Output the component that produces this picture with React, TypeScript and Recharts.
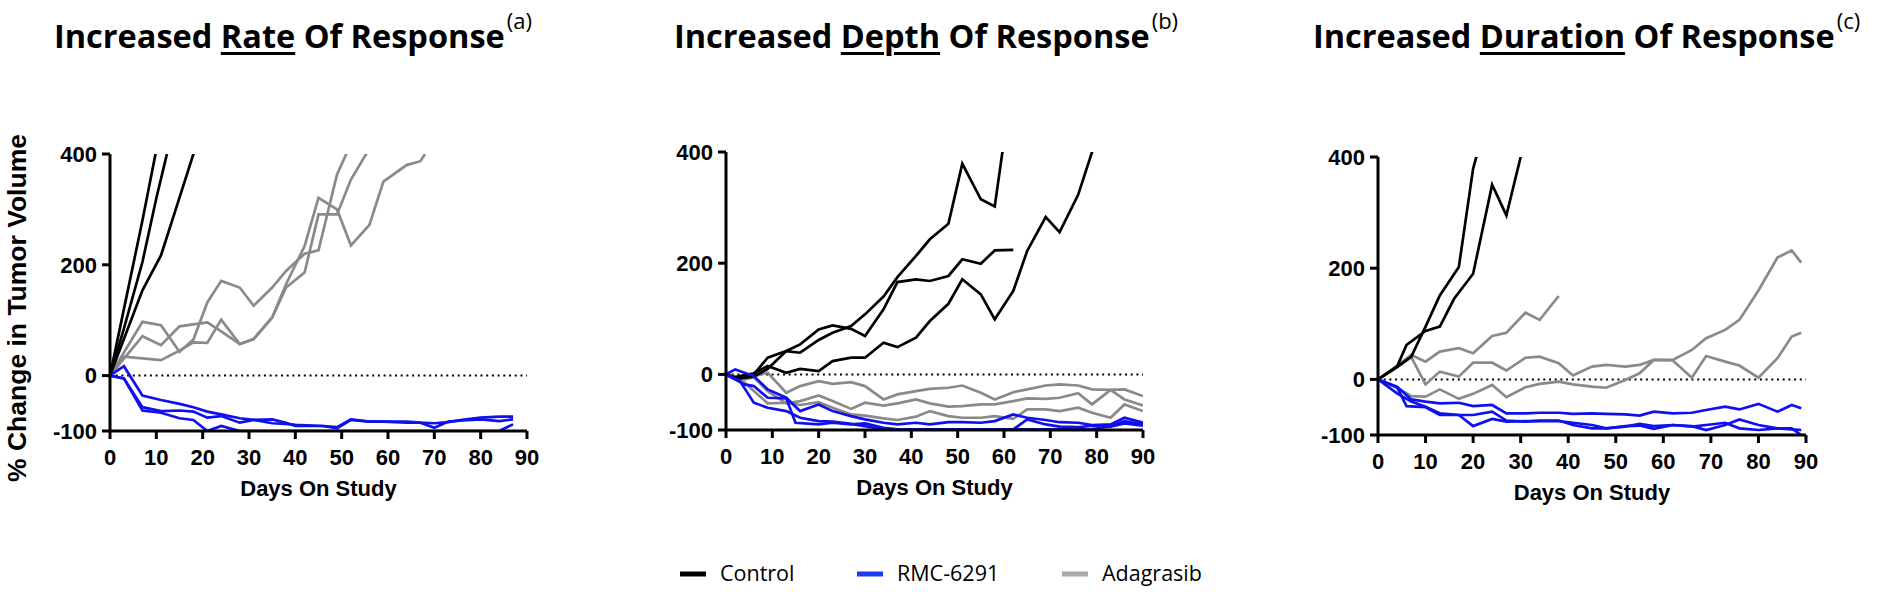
import React from 'react';
import { LineChart, Line, XAxis, YAxis, ReferenceLine } from 'recharts';

// [day, % change] pairs
const rateControl1 = [[0, 0], [3, 120], [7, 280], [11, 450]];
const rateControl2 = [[0, 0], [3, 85], [7, 205], [10, 320], [14, 460]];
const rateControl3 = [[0, 0], [7, 154], [11, 217], [14, 295], [18, 400], [21, 470]];
const rateRmc1 = [[0, 0], [3, 17], [7, -36], [11, -44], [15, -51], [18, -57], [21, -65], [24, -70], [28, -77], [31, -80], [35, -86], [38, -87], [40, -89], [46, -91], [49, -93], [52, -79], [56, -83], [59, -83], [64, -83], [67, -85], [70, -86], [73, -84], [76, -80], [80, -76], [84, -74], [87, -74]];
const rateRmc2 = [[0, 0], [3, -5], [7, -57], [11, -64], [15, -63], [18, -65], [21, -76], [24, -73], [28, -85], [31, -80], [35, -79], [38, -85], [40, -91], [46, -91], [49, -95], [52, -80], [56, -83], [59, -83], [64, -85], [67, -85], [70, -94], [73, -83], [76, -81], [80, -79], [84, -82], [87, -79]];
const rateRmc3 = [[0, 0], [3, -5], [7, -63], [11, -67], [15, -77], [18, -80], [21, -100], [24, -91], [28, -100], [84, -100], [87, -88]];
const rateAdagrasib1 = [[0, 0], [3, 34], [11, 28], [15, 45], [18, 60], [21, 59], [24, 101], [28, 57], [31, 66], [35, 105], [38, 159], [42, 186], [45, 291], [49, 291], [52, 354], [56, 410]];
const rateAdagrasib2 = [[0, 0], [7, 71], [11, 55], [15, 89], [21, 96], [24, 80], [28, 57], [31, 66], [35, 105], [38, 165], [42, 234], [45, 321], [49, 300], [52, 235], [56, 272], [59, 350], [64, 380], [67, 387], [68, 400]];
const rateAdagrasib3 = [[0, 0], [7, 97], [11, 91], [15, 43], [18, 65], [21, 132], [24, 171], [28, 159], [31, 126], [35, 159], [38, 189], [42, 220], [45, 226], [49, 363], [51, 400], [53, 440]];

const depthControl1 = [[0, 0], [2, -8], [6, 0], [9, 30], [13, 42], [16, 54], [20, 81], [23, 88], [27, 82], [30, 69], [34, 117], [37, 166], [41, 171], [44, 168], [48, 177], [51, 207], [55, 199], [58, 223], [62, 224]];
const depthControl2 = [[0, 0], [2, -8], [6, -4], [9, 10], [13, 42], [16, 39], [20, 62], [23, 75], [27, 87], [30, 108], [34, 140], [37, 175], [41, 213], [44, 243], [48, 271], [51, 379], [55, 315], [58, 302], [60, 420]];
const depthControl3 = [[0, 0], [2, -5], [6, 2], [9, 15], [13, 3], [16, 10], [20, 6], [23, 24], [27, 30], [30, 30], [34, 57], [37, 49], [41, 66], [44, 96], [48, 127], [51, 171], [55, 144], [58, 99], [62, 150], [65, 222], [69, 283], [72, 256], [76, 323], [79, 400], [81, 440]];
const depthRmc1 = [[0, 0], [2, 9], [6, -3], [9, -27], [13, -42], [16, -66], [20, -54], [23, -66], [27, -75], [30, -81], [34, -87], [37, -90], [41, -87], [44, -90], [48, -86], [51, -86], [55, -87], [58, -84], [62, -72], [65, -78], [69, -82], [72, -86], [76, -87], [79, -91], [83, -90], [86, -78], [90, -87]];
const depthRmc2 = [[0, 0], [4, -18], [6, -21], [9, -42], [13, -43], [15, -87], [20, -90], [23, -87], [27, -90], [30, -88], [34, -96], [37, -99], [62, -99], [65, -81], [69, -90], [72, -94], [76, -95], [79, -92], [83, -94], [86, -88], [90, -92]];
const depthRmc3 = [[0, 0], [3, -12], [6, -51], [9, -60], [13, -66], [16, -78], [20, -84], [23, -85], [27, -89], [30, -93], [34, -99], [79, -99], [83, -93], [86, -84], [90, -90]];
const depthAdagrasib1 = [[0, 0], [4, -9], [6, -3], [9, 3], [13, -33], [16, -21], [20, -12], [23, -17], [27, -14], [30, -21], [34, -45], [37, -36], [41, -30], [44, -26], [48, -24], [51, -20], [55, -33], [58, -45], [62, -32], [65, -27], [69, -20], [72, -18], [76, -20], [79, -27], [83, -28], [86, -27], [90, -39]];
const depthAdagrasib2 = [[0, 0], [4, -9], [6, -5], [9, -30], [13, -52], [16, -48], [20, -38], [23, -48], [27, -62], [30, -51], [34, -56], [37, -52], [41, -45], [44, -52], [48, -58], [51, -57], [55, -54], [58, -54], [62, -48], [65, -43], [69, -44], [72, -42], [76, -34], [79, -54], [83, -28], [86, -45], [90, -56]];
const depthAdagrasib3 = [[0, 0], [4, -15], [9, -52], [13, -51], [16, -55], [20, -50], [23, -60], [27, -72], [30, -74], [34, -79], [37, -82], [41, -76], [44, -66], [48, -75], [51, -78], [55, -78], [58, -75], [62, -80], [65, -63], [69, -63], [72, -66], [76, -60], [79, -69], [83, -78], [86, -54], [90, -66]];

const durationControl1 = [[0, 0], [4, 23], [6, 62], [10, 87], [13, 95], [16, 145], [20, 190], [24, 350], [27, 295], [30, 400], [31, 430]];
const durationControl2 = [[0, 0], [4, 22], [7, 41], [10, 95], [13, 151], [17, 202], [20, 379], [21, 410]];
const durationRmc1 = [[0, 0], [4, -13], [7, -36], [10, -40], [13, -43], [17, -42], [20, -48], [24, -46], [27, -61], [31, -61], [34, -60], [38, -60], [41, -62], [45, -61], [48, -62], [52, -63], [55, -65], [58, -58], [62, -61], [66, -60], [69, -55], [73, -49], [76, -54], [80, -44], [84, -58], [87, -46], [89, -52]];
const durationRmc2 = [[0, 0], [4, -14], [6, -48], [10, -50], [13, -64], [17, -64], [20, -64], [24, -58], [27, -74], [31, -76], [34, -74], [38, -74], [41, -82], [45, -88], [48, -88], [52, -84], [55, -83], [58, -89], [62, -82], [66, -85], [69, -82], [73, -78], [76, -88], [80, -91], [84, -88], [87, -90], [89, -91]];
const durationRmc3 = [[0, 0], [4, -25], [7, -40], [10, -49], [13, -61], [17, -64], [20, -84], [24, -71], [27, -76], [31, -75], [34, -75], [38, -75], [41, -78], [45, -82], [48, -88], [52, -85], [55, -80], [58, -84], [62, -82], [66, -84], [69, -91], [73, -82], [76, -72], [80, -82], [84, -88], [87, -88], [89, -100]];
const durationAdagrasib1 = [[0, 0], [4, 25], [7, 44], [10, 32], [13, 50], [17, 56], [20, 47], [24, 78], [27, 84], [31, 120], [34, 107], [38, 150]];
const durationAdagrasib2 = [[0, 0], [4, 22], [7, 40], [10, -9], [13, 14], [17, 5], [20, 30], [24, 30], [27, 16], [31, 39], [34, 41], [38, 29], [41, 7], [45, 23], [48, 26], [52, 23], [55, 26], [58, 35], [62, 34], [66, 3], [69, 42], [73, 32], [76, 25], [80, 3], [84, 38], [87, 77], [89, 84]];
const durationAdagrasib3 = [[0, 0], [4, -15], [7, -30], [10, -31], [13, -18], [17, -35], [20, -26], [24, -10], [27, -32], [31, -14], [34, -8], [38, -4], [41, -9], [45, -13], [48, -15], [52, -1], [55, 11], [58, 35], [62, 35], [66, 53], [69, 74], [73, 89], [76, 107], [80, 160], [84, 219], [87, 232], [89, 210]];

const xTicks = [0, 10, 20, 30, 40, 50, 60, 70, 80, 90];
const yTicks = [-100, 0, 200, 400];
const groupNames = ['Control', 'RMC-6291', 'Adagrasib'];

const BLACK = '#000000';
const BLUE = '#1010ee';
const GRAY = '#8a8a8a';

const tickFont = {
  fontSize: 22,
  fontWeight: 700,
  fill: '#000',
  fontFamily: '"Liberation Sans", Arial, sans-serif',
};

const panels = [
  {
    id: 'rate',
    word: 'Rate',
    note: '(a)',
    chartLeft: 0,
    titleLeft: 54,
    plotTop: 154,
    plotBottom: 431,
    control: [rateControl1, rateControl2, rateControl3],
    rmc: [rateRmc1, rateRmc2, rateRmc3],
    adagrasib: [rateAdagrasib1, rateAdagrasib2, rateAdagrasib3],
  },
  {
    id: 'depth',
    word: 'Depth',
    note: '(b)',
    chartLeft: 616,
    titleLeft: 674,
    plotTop: 152,
    plotBottom: 430,
    control: [depthControl1, depthControl2, depthControl3],
    rmc: [depthRmc1, depthRmc2, depthRmc3],
    adagrasib: [depthAdagrasib1, depthAdagrasib2, depthAdagrasib3],
  },
  {
    id: 'duration',
    word: 'Duration',
    note: '(c)',
    chartLeft: 1268,
    titleLeft: 1313,
    plotTop: 157,
    plotBottom: 435,
    control: [durationControl1, durationControl2],
    rmc: [durationRmc1, durationRmc2, durationRmc3],
    adagrasib: [durationAdagrasib1, durationAdagrasib2, durationAdagrasib3],
  },
];

const toPoints = (pairs: number[][]) => pairs.map(([d, v]) => ({ d, v }));

const CHART_H = 592;
const X_AXIS_H = 80;

function Panel({ p }: { p: (typeof panels)[number] }) {
  const series = [
    ...p.adagrasib.map((s) => ({ s, color: GRAY })),
    ...p.control.map((s) => ({ s, color: BLACK })),
    ...p.rmc.map((s) => ({ s, color: BLUE })),
  ];
  // the third panel is drawn a little wider, as in the figure
  const width = p.id === 'duration' ? 611 : 600;
  return (
    <div style={{ position: 'absolute', left: p.chartLeft, top: 0 }}>
      <LineChart
        width={width}
        height={CHART_H}
        margin={{ top: p.plotTop, right: 73, left: 0, bottom: CHART_H - p.plotBottom - X_AXIS_H }}
      >
        <XAxis
          dataKey="d"
          type="number"
          domain={[0, 90]}
          ticks={xTicks}
          interval={0}
          height={X_AXIS_H}
          tick={tickFont}
          tickSize={8}
          tickMargin={10}
          axisLine={{ stroke: '#000', strokeWidth: 3 }}
          tickLine={{ stroke: '#000', strokeWidth: 3 }}
          allowDataOverflow
          label={{
            value: 'Days On Study',
            position: 'insideBottom',
            offset: 15,
            style: { ...tickFont, fontSize: 22 },
          }}
        />
        <YAxis
          type="number"
          domain={[-100, 400]}
          ticks={yTicks}
          interval={0}
          width={110}
          tick={tickFont}
          tickSize={8}
          tickMargin={5}
          axisLine={{ stroke: '#000', strokeWidth: 3 }}
          tickLine={{ stroke: '#000', strokeWidth: 3 }}
          allowDataOverflow
        />
        <ReferenceLine y={0} stroke="#000" strokeWidth={2} strokeDasharray="2 3.7" />
        {series.map(({ s, color }, i) => (
          <Line
            key={p.id + i}
            data={toPoints(s)}
            dataKey="v"
            type="linear"
            stroke={color}
            strokeWidth={2.7}
            dot={false}
            activeDot={false}
            isAnimationActive={false}
          />
        ))}
      </LineChart>
    </div>
  );
}

const titleStyle: React.CSSProperties = {
  position: 'absolute',
  top: 20,
  fontFamily: '"Open Sans", sans-serif',
  fontWeight: 700,
  fontSize: 32.5,
  lineHeight: 1,
  whiteSpace: 'nowrap',
  color: '#000',
};

const legendItems = [
  { name: groupNames[0], color: '#000000', x: 680 },
  { name: groupNames[1], color: '#1a3cf5', x: 857 },
  { name: groupNames[2], color: '#a9a9a9', x: 1062 },
];

export default function App() {
  return (
    <div
      style={{
        position: 'absolute',
        left: 0,
        top: 0,
        width: 1897,
        height: 592,
        background: '#fff',
        overflow: 'hidden',
      }}
    >
      {panels.map((p) => (
        <Panel key={p.id} p={p} />
      ))}
      {panels.map((p) => (
        <div key={p.id + '-title'} style={{ ...titleStyle, left: p.titleLeft }}>
          Increased{' '}
          <span style={{ textDecoration: 'underline', textDecorationThickness: '2.5px', textUnderlineOffset: '4px' }}>
            {p.word}
          </span>{' '}
          Of Response
          <span style={{ fontWeight: 400, fontSize: 22, position: 'relative', top: -19, marginLeft: 2 }}>{p.note}</span>
        </div>
      ))}
      <svg width={1897} height={592} style={{ position: 'absolute', left: 0, top: 0, pointerEvents: 'none' }}>
        <text
          transform="translate(26, 308) rotate(-90)"
          textAnchor="middle"
          fontFamily='"Liberation Sans", Arial, sans-serif'
          fontWeight={700}
          fontSize={26.5}
          fill="#000"
        >
          % Change in Tumor Volume
        </text>
        {legendItems.map((it) => (
          <g key={it.name}>
            <line x1={it.x} x2={it.x + 26} y1={574} y2={574} stroke={it.color} strokeWidth={5} />
            <text x={it.x + 40} y={581} fontFamily='"Open Sans", sans-serif' fontSize={21.5} fill="#000">
              {it.name}
            </text>
          </g>
        ))}
      </svg>
    </div>
  );
}
